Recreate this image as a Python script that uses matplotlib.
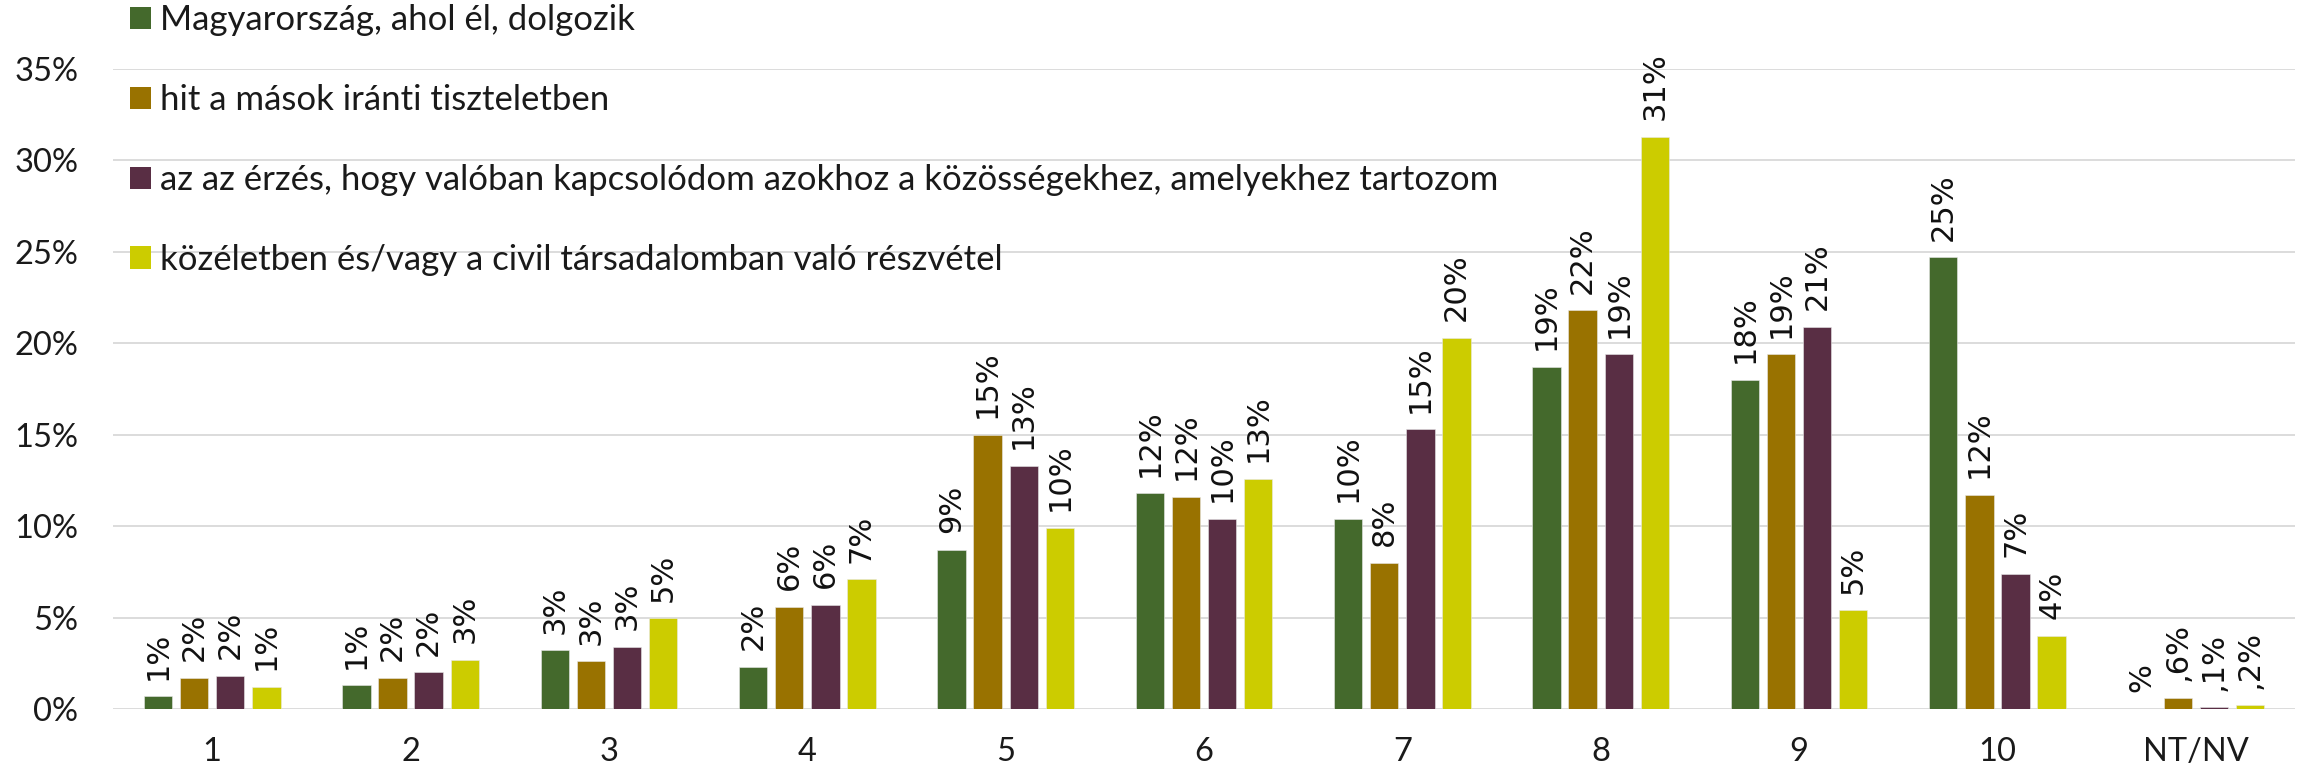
import matplotlib
matplotlib.use("Agg")
import matplotlib.pyplot as plt
from matplotlib.patches import Patch
import numpy as np

categories = ["1", "2", "3", "4", "5", "6", "7", "8", "9", "10", "NT/NV"]
series_names = [
    "Magyarország, ahol él, dolgozik",
    "hit a mások iránti tiszteletben",
    "az az érzés, hogy valóban kapcsolódom azokhoz a közösségekhez, amelyekhez tartozom",
    "közéletben és/vagy a civil társadalomban való részvétel",
]
magyarorszag = [0.7, 1.3, 3.2, 2.3, 8.7, 11.8, 10.4, 18.7, 18.0, 24.7, 0.0]
hit = [1.7, 1.7, 2.6, 5.6, 15.0, 11.6, 8.0, 21.8, 19.4, 11.7, 0.6]
kapcsolodom = [1.8, 2.0, 3.4, 5.7, 13.3, 10.4, 15.3, 19.4, 20.9, 7.4, 0.1]
kozelet = [1.2, 2.7, 4.96, 7.1, 9.9, 12.6, 20.3, 31.3, 5.4, 4.0, 0.2]
yticks = [0, 5, 10, 15, 20, 25, 30, 35]

colors = ["#44692C", "#997200", "#592E44", "#CCCC00"]
all_series = [magyarorszag, hit, kapcsolodom, kozelet]


def fmt(v, cat):
    if cat != "NT/NV":
        return f"{int(round(v))}%"
    d = int(round(v * 10))
    return "%" if d == 0 else f",{d}%"


W, H = 2303, 772
fig = plt.figure(figsize=(W / 100, H / 100), dpi=100)
ax = fig.add_axes([113 / W, 1 - 709 / H, (2295 - 113) / W, (709 - 69) / H])

x = np.arange(len(categories))
pitch = 0.182
width = 0.143
for i, (vals, c) in enumerate(zip(all_series, colors)):
    pos = x + (i - 1.5) * pitch
    ax.bar(pos, vals, width=width, color=c, edgecolor="#e8e8e8", linewidth=0.4, zorder=3)
    for px, v, cat in zip(pos, vals, categories):
        ax.annotate(fmt(v, cat), (px, v), xytext=(0, 12), textcoords="offset points",
                    rotation=90, ha="center", va="bottom", fontsize=22,
                    family="DejaVu Sans", color="#111111", annotation_clip=False)

ax.set_xlim(-0.5, len(categories) - 0.5)
ax.set_ylim(0, 35)
ax.set_yticks(yticks)
ax.set_yticklabels([f"{t}%" for t in yticks], family="Lato", fontsize=23.5, color="#1a1a1a")
ax.set_xticks(x)
ax.set_xticklabels(categories, family="Lato", fontsize=23.5, color="#1a1a1a")
ax.tick_params(axis="both", length=0)
ax.tick_params(axis="y", pad=25)
ax.tick_params(axis="x", pad=20)
ax.grid(axis="y", color="#d9d9d9", linewidth=1.3, zorder=0)
ax.set_axisbelow(True)
for s in ax.spines.values():
    s.set_visible(False)

handles = [Patch(facecolor=c, edgecolor="none") for c in colors]
fig.legend(handles, series_names, loc="upper left", bbox_to_anchor=(130 / W, 1 - 4 / H),
           frameon=False, prop={"family": "Lato", "size": 25},
           handlelength=0.6, handleheight=0.6, handletextpad=0.25,
           labelspacing=1.38, borderpad=0, borderaxespad=0, labelcolor="#1a1a1a")

fig.savefig("out.png", dpi=100)
